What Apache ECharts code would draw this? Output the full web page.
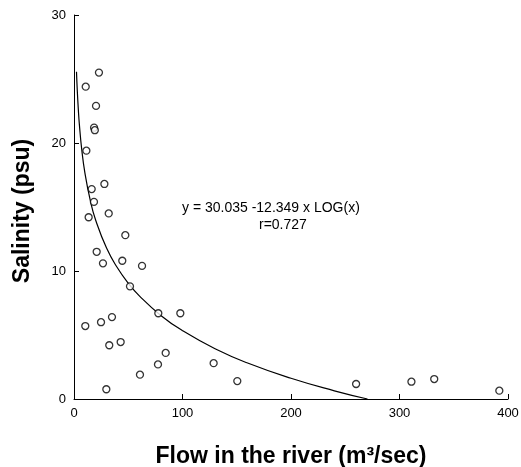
<!DOCTYPE html>
<html>
<head>
<meta charset="utf-8">
<script src="https://cdn.jsdelivr.net/npm/echarts@6/dist/echarts.min.js"></script>
<style>html,body{margin:0;padding:0;background:#fff}#c{width:521px;height:467px}</style>
</head>
<body>
<div id="c"></div>
<script>
// Observed data points: flow (m3/sec) and salinity (psu)
var flow = [23, 10.8, 20.3, 18.5, 19.2, 11.4, 28, 16.3, 18.4, 13.5, 32, 47.3, 20.9, 26.7, 44.5, 62.7, 51.6, 77.7, 98, 10.4, 24.9, 35, 32.5, 43, 84.5, 77.4, 128.7, 60.8, 29.8, 150.5, 260, 311, 332, 392];
var salinity = [25.5, 24.4, 22.9, 21.2, 21.0, 19.4, 16.8, 16.4, 15.4, 14.2, 14.5, 12.8, 11.5, 10.6, 10.8, 10.4, 8.8, 6.7, 6.7, 5.7, 6.0, 6.4, 4.2, 4.45, 3.6, 2.7, 2.8, 1.9, 0.76, 1.4, 1.17, 1.35, 1.56, 0.65];
// Fitted curve
var fitX = [2.3, 3, 4, 5, 7, 10, 15, 20, 30, 40, 50, 60, 80, 100, 130, 160, 200, 240, 270.5];
var fitY = [25.56, 24.14, 22.60, 21.40, 19.60, 17.69, 15.51, 13.97, 11.79, 10.25, 9.05, 8.08, 6.53, 5.34, 3.93, 2.81, 1.62, 0.64, 0.0];
var xTicks = [0, 100, 200, 300, 400];
var yTicks = [0, 10, 20, 30];
var eqText = 'y = 30.035 -12.349 x LOG(x)';
var rText = 'r=0.727';

var pts = flow.map(function (v, i) { return [v, salinity[i]]; });
var curve = fitX.map(function (v, i) { return [v, fitY[i]]; });

var chart = echarts.init(document.getElementById('c'));
chart.setOption({
  animation: false,
  backgroundColor: '#fff',
  grid: { left: 74, right: 13, top: 15, bottom: 68, containLabel: false, outerBoundsMode: 'none' },
  xAxis: {
    type: 'value', min: xTicks[0], max: xTicks[xTicks.length - 1], interval: 100,
    name: 'Flow in the river (m³/sec)', nameLocation: 'middle', nameGap: 46,
    nameTextStyle: { fontFamily: 'Liberation Sans', fontWeight: 'bold', fontSize: 23, color: '#000' },
    axisLine: { lineStyle: { color: '#000', width: 1 } },
    axisTick: { inside: true, length: 5, lineStyle: { color: '#000' } },
    axisLabel: { color: '#000', fontFamily: 'Liberation Sans', fontSize: 13, margin: 8 },
    splitLine: { show: false }
  },
  yAxis: {
    type: 'value', min: yTicks[0], max: yTicks[yTicks.length - 1], interval: 10,
    name: 'Salinity (psu)', nameLocation: 'middle', nameGap: 40,
    nameTextStyle: { fontFamily: 'Liberation Sans', fontWeight: 'bold', fontSize: 23, color: '#000', padding: [0, 8, 0, 0] },
    axisLine: { show: true, lineStyle: { color: '#000', width: 1 } },
    axisTick: { show: true, inside: true, length: 5, lineStyle: { color: '#000' } },
    axisLabel: { color: '#000', fontFamily: 'Liberation Sans', fontSize: 13, margin: 8 },
    splitLine: { show: false }
  },
  graphic: [
    { type: 'text', left: 182, top: 201, style: { text: eqText, fill: '#000', font: '14px "Liberation Sans"' } },
    { type: 'text', left: 259, top: 218, style: { text: rText, fill: '#000', font: '14px "Liberation Sans"' } }
  ],
  series: [
    {
      type: 'line', data: curve, smooth: true, showSymbol: false,
      lineStyle: { color: '#000', width: 1.2 }, z: 2
    },
    {
      type: 'scatter', data: pts, symbol: 'circle', symbolSize: 7,
      itemStyle: { color: '#fff', borderColor: '#000', borderWidth: 1.3 }, z: 3
    }
  ]
});
</script>
</body>
</html>
